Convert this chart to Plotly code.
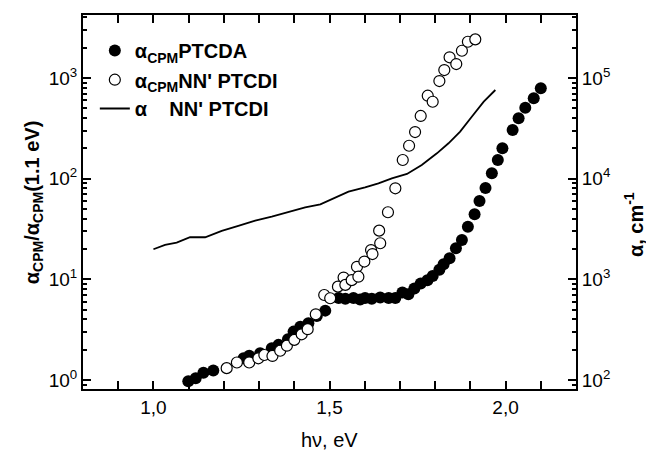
import plotly.graph_objects as go

# PTCDA, alpha_CPM normalized (filled circles)
ptcda_x = [1.099, 1.120, 1.142, 1.170, 1.256, 1.272, 1.303, 1.336, 1.355, 1.382, 1.398,
           1.417, 1.440, 1.464, 1.488, 1.526, 1.545, 1.568, 1.587, 1.601, 1.620, 1.644,
           1.668, 1.687, 1.707, 1.724, 1.741, 1.759, 1.778, 1.793, 1.812, 1.824, 1.841,
           1.859, 1.876, 1.893, 1.912, 1.926, 1.943, 1.961, 1.978, 1.991, 2.020, 2.037,
           2.056, 2.080, 2.100]
ptcda_y = [0.97, 1.04, 1.18, 1.24, 1.64, 1.74, 1.84, 2.06, 2.23, 2.54, 3.02,
           3.38, 3.66, 4.32, 4.88, 6.5, 6.4, 6.5, 6.3, 6.5, 6.4, 6.6,
           6.5, 6.5, 7.4, 7.1, 8.1, 9.1, 9.8, 10.8, 12.4, 14.1, 16.2,
           20.3, 24.5, 33.3, 44.2, 60, 80.7, 113, 153, 200, 304, 397,
           506, 627, 788]

# NN' PTCDI, alpha_CPM normalized (open circles)
ptcdi_x = [1.208, 1.237, 1.272, 1.298, 1.315, 1.338, 1.360, 1.379, 1.400, 1.421, 1.438,
           1.461, 1.485, 1.502, 1.524, 1.540, 1.545, 1.563, 1.578, 1.582, 1.599, 1.618,
           1.622, 1.641, 1.644, 1.666, 1.687, 1.708, 1.726, 1.743, 1.759, 1.779, 1.793,
           1.812, 1.826, 1.841, 1.860, 1.876, 1.893, 1.914]
ptcdi_y = [1.31, 1.49, 1.49, 1.64, 1.77, 1.73, 1.95, 2.19, 2.50, 2.84, 3.19,
           4.49, 6.98, 6.48, 8.45, 10.4, 8.8, 9.8, 13.3, 10.6, 15.0, 19.5,
           17.8, 30.4, 22.8, 46.3, 80.1, 153, 212, 290, 419, 666, 580,
           931, 1197, 1603, 1374, 1862, 2287, 2417]

# NN' PTCDI absorption coefficient alpha, cm^-1 (line, right axis)
alpha_x = [1.000, 1.033, 1.066, 1.104, 1.147, 1.194, 1.241, 1.289, 1.336, 1.384, 1.431,
           1.474, 1.516, 1.554, 1.601, 1.639, 1.677, 1.720, 1.762, 1.805, 1.838, 1.871,
           1.904, 1.938, 1.971]
alpha_y = [1986, 2192, 2309, 2614, 2614, 3018, 3383, 3818, 4186, 4692, 5188,
           5558, 6520, 7412, 8200, 8983, 10070, 11120, 13660, 17830, 22420, 29250,
           41200, 58030, 75860]

x_ticks = [1.0, 1.5, 2.0]
x_ticktext = ["1,0", "1,5", "2,0"]
yl_ticks = [1, 10, 100, 1000]
yl_ticktext = ["10<sup>0</sup>", "10<sup>1</sup>", "10<sup>2</sup>", "10<sup>3</sup>"]
yr_ticks = [100, 1000, 10000, 100000]
yr_ticktext = ["10<sup>2</sup>", "10<sup>3</sup>", "10<sup>4</sup>", "10<sup>5</sup>"]

yl_minor = [0.9] + [k * 10 ** d for d in range(0, 4) for k in range(2, 10) if k * 10 ** d < 4200]
yr_minor = [v * 100 for v in yl_minor]

FONT = "Arial, 'Liberation Sans', sans-serif"
TICK_SIZE = 19
TEXT_SIZE = 20

fig = go.Figure()
fig.add_trace(go.Scatter(
    x=ptcda_x, y=ptcda_y, mode="markers", name="<b>α<sub>CPM</sub>PTCDA</b>",
    marker=dict(symbol="circle", size=12, color="black", line=dict(width=0)),
    legend="legend"))
fig.add_trace(go.Scatter(
    x=ptcdi_x, y=ptcdi_y, mode="markers", name="<b>α<sub>CPM</sub>NN' PTCDI</b>",
    marker=dict(symbol="circle", size=11, color="white", line=dict(width=1.2, color="black")),
    legend="legend2"))
fig.add_trace(go.Scatter(
    x=alpha_x, y=alpha_y, mode="lines", name="<b>α\u00a0\u00a0\u00a0 NN' PTCDI</b>",
    line=dict(color="black", width=1.8), yaxis="y2", legend="legend3"))

axis_common = dict(showline=True, linecolor="black", linewidth=2, ticks="inside",
                   tickcolor="black", tickwidth=1.5, showgrid=False, zeroline=False,
                   automargin=False,
                   tickfont=dict(family=FONT, size=TICK_SIZE, color="black"))

leg_common = dict(xanchor="left", yanchor="middle",
                  font=dict(family=FONT, size=TEXT_SIZE, color="black"),
                  bgcolor="rgba(0,0,0,0)", borderwidth=0)

title_font = dict(family=FONT, size=TEXT_SIZE, color="black")

fig.update_layout(
    width=646, height=451,
    margin=dict(l=83, r=70, t=15, b=62, autoexpand=False),
    paper_bgcolor="white", plot_bgcolor="white",
    font=dict(family=FONT, color="black"),
    showlegend=True,
    legend=dict(x=0.024, y=0.905, **leg_common),
    legend2=dict(x=0.024, y=0.827, **leg_common),
    legend3=dict(x=0.024, y=0.75, **leg_common),
    xaxis=dict(range=[0.8, 2.2], tickvals=x_ticks, ticktext=x_ticktext, ticklen=8,
               mirror="allticks",
               minor=dict(dtick=0.1, tick0=0.8, ticks="inside", ticklen=4, tickcolor="black", tickwidth=1.5),
               **axis_common),
    yaxis=dict(type="log", range=[-0.09, 3.625], tickvals=yl_ticks, ticktext=yl_ticktext,
               ticklen=8,
               minor=dict(tickvals=yl_minor, ticks="inside", ticklen=4, tickcolor="black", tickwidth=1.5),
               **axis_common),
    yaxis2=dict(type="log", range=[1.91, 5.625], overlaying="y", side="right",
                tickvals=yr_ticks, ticktext=yr_ticktext, ticklen=8,
                minor=dict(tickvals=yr_minor, ticks="inside", ticklen=4, tickcolor="black", tickwidth=1.5),
                **axis_common),
    annotations=[
        dict(text="hν, eV", xref="paper", yref="paper", x=0.5, y=-0.136,
             xanchor="center", yanchor="middle", showarrow=False, font=title_font),
        dict(text="<b>α<sub>CPM</sub>/α<sub>CPM</sub>(1.1 eV)</b>", textangle=-90,
             xref="paper", yref="paper", x=-0.101, y=0.5,
             xanchor="center", yanchor="middle", showarrow=False, font=title_font),
        dict(text="<b>α, cm<sup>-1</sup></b>", textangle=-90,
             xref="paper", yref="paper", x=1.117, y=0.44,
             xanchor="center", yanchor="middle", showarrow=False, font=title_font),
    ],
)

fig.write_html("out.html")
